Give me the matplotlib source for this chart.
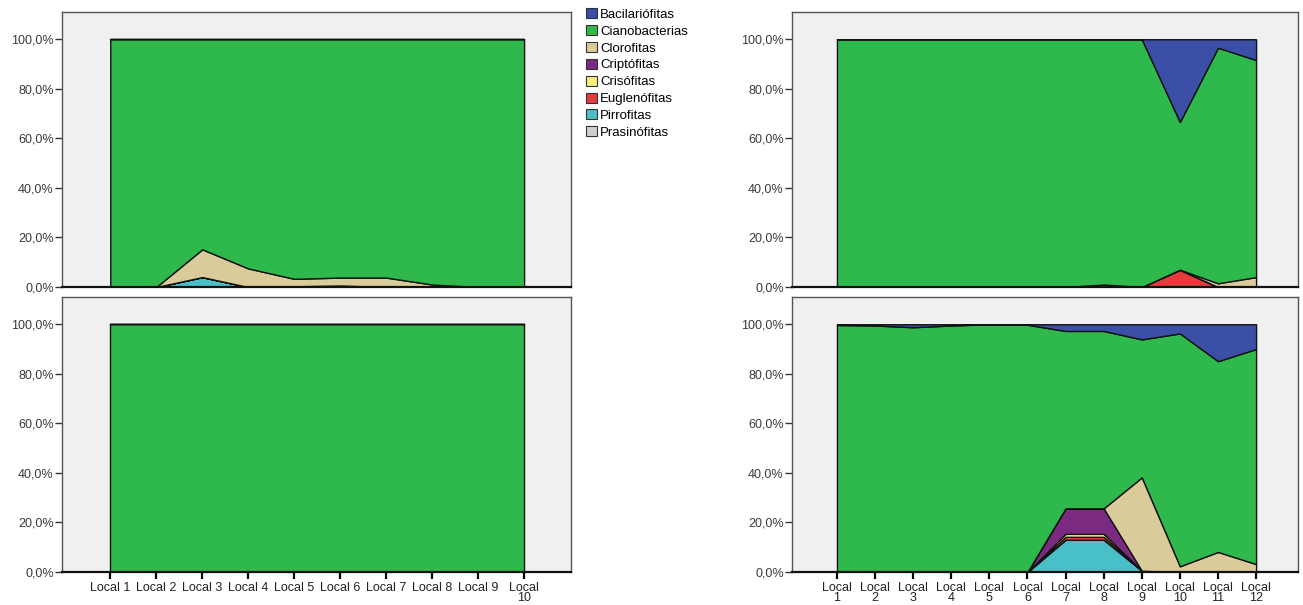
import numpy as np
import matplotlib
matplotlib.use("Agg")
import matplotlib.pyplot as plt
from matplotlib.patches import Patch

plt.rcParams['font.family'] = ['Liberation Sans', 'DejaVu Sans']

# phylum groups, legend order (top of the stack first)
groups = ['Bacilariófitas', 'Cianobacterias', 'Clorofitas', 'Criptófitas',
          'Crisófitas', 'Euglenófitas', 'Pirrofitas', 'Prasinófitas']
colors = ['#3c4fa6', '#2fb84c', '#d9cc9a', '#7a2a80',
          '#f6f07a', '#e63b3c', '#49c0c8', '#cfcfcf']

locals10 = ['Local 1', 'Local 2', 'Local 3', 'Local 4', 'Local 5',
            'Local 6', 'Local 7', 'Local 8', 'Local 9', 'Local\n10']
locals12 = ['Local\n%d' % i for i in range(1, 13)]

# relative abundance (%) per site, top-left panel
tl_bacil = [0, 0, 0, 0, 0, 0, 0, 0, 0, 0]
tl_clor = [0, 0, 11.2, 7.5, 3.0, 3.2, 3.8, 1.0, 0, 0]
tl_cript = [0, 0, 0, 0, 0.3, 0.6, 0, 0, 0, 0]
tl_cris = [0, 0, 0, 0, 0, 0, 0, 0, 0, 0]
tl_eugl = [0, 0, 0, 0, 0, 0, 0, 0, 0, 0]
tl_pirro = [0, 0, 4.0, 0, 0, 0, 0, 0, 0, 0]
tl_prasi = [0, 0, 0, 0, 0, 0, 0, 0, 0, 0]

# bottom-left panel
bl_bacil = [0, 0, 0, 0, 0, 0, 0, 0, 0, 0]
bl_clor = [0, 0, 0, 0, 0, 0, 0, 0, 0, 0]
bl_cript = [0, 0, 0, 0, 0, 0, 0, 0, 0, 0]
bl_cris = [0, 0, 0, 0, 0, 0, 0, 0, 0, 0]
bl_eugl = [0, 0, 0, 0, 0, 0, 0, 0, 0, 0]
bl_pirro = [0, 0, 0, 0, 0, 0, 0, 0, 0, 0]
bl_prasi = [0, 0, 0, 0, 0, 0, 0, 0, 0, 0]

# top-right panel
tr_bacil = [0, 0, 0, 0, 0, 0, 0, 0, 0, 33.4, 3.4, 8.4]
tr_clor = [0, 0, 0, 0, 0, 0, 0, 0, 0, 0, 1.5, 4.0]
tr_cript = [0, 0, 0, 0, 0, 0, 0, 1.0, 0, 0, 0, 0]
tr_cris = [0, 0, 0, 0, 0, 0, 0, 0, 0, 0, 0, 0]
tr_eugl = [0, 0, 0, 0, 0, 0, 0, 0, 0, 7.0, 0, 0]
tr_pirro = [0, 0, 0, 0, 0, 0, 0, 0, 0, 0, 0, 0]
tr_prasi = [0, 0, 0, 0, 0, 0, 0, 0, 0, 0, 0, 0]

# bottom-right panel
br_bacil = [0.3, 0.5, 1.2, 0.5, 0, 0.2, 2.7, 2.7, 6.1, 3.7, 14.9, 10.0]
br_clor = [0, 0, 0, 0, 0, 0, 0, 0, 37.7, 2.3, 8.1, 3.2]
br_cript = [0, 0, 0, 0, 0, 0, 10.3, 10.3, 0, 0, 0, 0]
br_cris = [0, 0, 0, 0, 0, 0, 1.2, 1.2, 0, 0, 0, 0]
br_eugl = [0, 0, 0, 0, 0, 0, 1.2, 1.2, 0, 0, 0, 0]
br_pirro = [0, 0, 0, 0, 0, 0, 13.0, 13.0, 0.5, 0, 0, 0]
br_prasi = [0, 0, 0, 0, 0, 0, 0, 0, 0, 0, 0, 0]


def layers(bacil, clor, cript, cris, eugl, pirro, prasi):
    parts = [np.array(v, float) for v in (bacil, clor, cript, cris, eugl, pirro, prasi)]
    cian = 100 - sum(parts)
    # stacked from the bottom: Prasinófitas ... Bacilariófitas
    return [parts[6], parts[5], parts[4], parts[3], parts[2], parts[1], cian, parts[0]]


def area_panel(ax, labels, stack, show_x):
    n = len(labels)
    x = np.arange(n)
    ax.stackplot(x, *stack, colors=colors[::-1], edgecolor='#111111', linewidth=1.0)
    ax.set_facecolor('#f0f0f0')
    ax.set_ylim(0, 111)
    if n == 10:
        ax.set_xlim(-1.05, n + 0.02)
    else:
        ax.set_xlim(-1.18, n - 1 + 1.1)
    ax.set_yticks([0, 20, 40, 60, 80, 100])
    ax.set_yticklabels(['0,0%', '20,0%', '40,0%', '60,0%', '80,0%', '100,0%'],
                       fontsize=9, color='#3a3a3a')
    ax.tick_params(axis='y', direction='out', length=5, width=1, pad=1, color='#333333')
    for s in ax.spines.values():
        s.set_color('#555555')
        s.set_linewidth(1)
    ax.spines['bottom'].set_color('#111111')
    ax.spines['bottom'].set_linewidth(1.6)
    ax.set_xticks(x)
    if show_x:
        ax.set_xticklabels(labels, fontsize=9, linespacing=0.85, color='#222222')
        ax.tick_params(axis='x', direction='out', length=5, width=1.6, pad=2)
    else:
        ax.set_xticklabels([])
        ax.tick_params(axis='x', length=0)


fig = plt.figure(figsize=(13.03, 6.05), dpi=100)
W, H = 1303, 605


def add_ax(x0, x1, y0, y1):
    return fig.add_axes([x0 / W, 1 - y1 / H, (x1 - x0) / W, (y1 - y0) / H])


ax_tl = add_ax(62, 571, 12, 287)
ax_bl = add_ax(62, 571, 297, 572)
ax_tr = add_ax(792, 1298, 12, 287)
ax_br = add_ax(792, 1298, 297, 572)

area_panel(ax_tl, locals10, layers(tl_bacil, tl_clor, tl_cript, tl_cris, tl_eugl, tl_pirro, tl_prasi), False)
area_panel(ax_bl, locals10, layers(bl_bacil, bl_clor, bl_cript, bl_cris, bl_eugl, bl_pirro, bl_prasi), True)
area_panel(ax_tr, locals12, layers(tr_bacil, tr_clor, tr_cript, tr_cris, tr_eugl, tr_pirro, tr_prasi), False)
area_panel(ax_br, locals12, layers(br_bacil, br_clor, br_cript, br_cris, br_eugl, br_pirro, br_prasi), True)

handles = [Patch(facecolor=c, edgecolor='#333333', linewidth=0.8) for c in colors]
fig.legend(handles, groups, loc='upper left', bbox_to_anchor=(581 / W, 1 - 3 / H),
           frameon=False, fontsize=9.5, handlelength=0.8, handleheight=0.8,
           handletextpad=0.25, labelspacing=0.32, borderaxespad=0)

fig.savefig('out.png', dpi=100)
